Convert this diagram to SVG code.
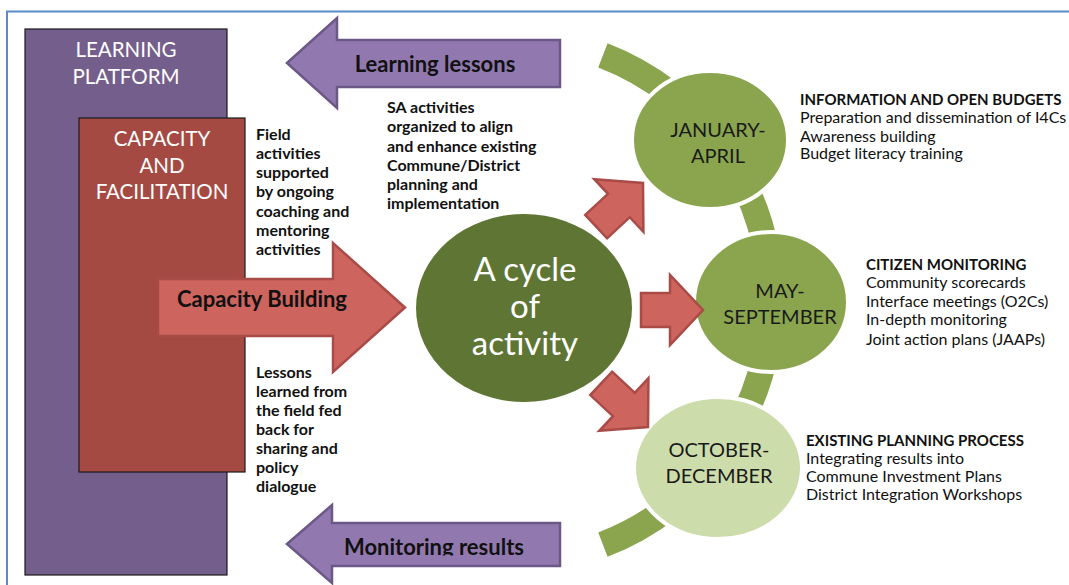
<svg xmlns="http://www.w3.org/2000/svg" width="1069" height="585" viewBox="0 0 1069 585">
  <defs>
    <style>
      .frame { fill: none; stroke: #5B8BCB; stroke-width: 2; }
      .box { stroke: #1a1a1a; stroke-width: 1.2; }
      .purple-arrow { fill: #9179AF; stroke: #6C5887; stroke-width: 2.5; stroke-linejoin: miter; }
      .red-arrow { fill: #CD645E; stroke: #A94B46; stroke-width: 2.5; stroke-linejoin: miter; }
      .ring { fill: none; stroke: #8AA54E; stroke-width: 26; }
      .month { stroke: #ffffff; stroke-width: 4; }
      .title { font-family: Lato, "Liberation Sans", sans-serif; font-size: 20.5px; fill: #ffffff; text-anchor: middle; }
      .cycle-label { font-family: Lato, "Liberation Sans", sans-serif; font-size: 33px; fill: #ffffff; text-anchor: middle; }
      .note { font-family: Lato, "Liberation Sans", sans-serif; font-size: 16px; font-weight: bold; fill: #111111; }
      .arrow-label { font-family: Lato, "Liberation Sans", sans-serif; font-size: 22px; font-weight: bold; fill: #111111; text-anchor: middle; }
      .month-label { font-family: Lato, "Liberation Sans", sans-serif; font-size: 20px; fill: #1a1a1a; text-anchor: middle; }
      .list { font-family: Lato, "Liberation Sans", sans-serif; font-size: 16px; fill: #111111; }
      .list.head { font-size: 15px; font-weight: bold; }
    </style>
    <clipPath id="clip-monitoring">
      <rect x="280" y="500" width="300" height="55.5"/>
    </clipPath>
  </defs>

  <!-- page frame -->
  <path class="frame" d="M 7 585 L 7 11.5 L 1069 11.5"/>

  <!-- nested platforms -->
  <g id="learning-platform">
    <rect class="box" x="25" y="29" width="202" height="546" fill="#745E8C"/>
    <text class="title" x="126" y="57">LEARNING</text>
    <text class="title" x="126" y="84">PLATFORM</text>
  </g>

  <g id="capacity-facilitation">
    <rect class="box" x="79" y="118" width="166" height="354" fill="#A54A43"/>
    <text class="title" x="162" y="146">CAPACITY</text>
    <text class="title" x="162" y="173">AND</text>
    <text class="title" x="162" y="199">FACILITATION</text>
  </g>

  <g id="field-note">
    <text class="note" x="256" y="140">Field</text>
    <text class="note" x="256" y="159">activities</text>
    <text class="note" x="256" y="178">supported</text>
    <text class="note" x="256" y="197">by ongoing</text>
    <text class="note" x="256" y="217">coaching and</text>
    <text class="note" x="256" y="236">mentoring</text>
    <text class="note" x="256" y="255">activities</text>
  </g>

  <g id="lessons-note">
    <text class="note" x="256" y="378">Lessons</text>
    <text class="note" x="256" y="397">learned from</text>
    <text class="note" x="256" y="416">the field fed</text>
    <text class="note" x="256" y="435">back for</text>
    <text class="note" x="256" y="454">sharing and</text>
    <text class="note" x="256" y="473">policy</text>
    <text class="note" x="256" y="492">dialogue</text>
  </g>

  <g id="sa-note">
    <text class="note" x="387" y="113">SA activities</text>
    <text class="note" x="387" y="132">organized to align</text>
    <text class="note" x="387" y="152">and enhance existing</text>
    <text class="note" x="387" y="171">Commune/District</text>
    <text class="note" x="387" y="190">planning and</text>
    <text class="note" x="387" y="209">implementation</text>
  </g>

  <!-- broken ring linking the three periods -->
  <g id="connectors">
    <path class="ring" d="M 602.9 55.4 A 262 262 0 0 1 602.9 544.6"/>
  </g>

  <g id="learning-lessons">
    <polygon class="purple-arrow" points="287,63 337,18 337,40 560,40 560,87 337,87 337,108"/>
    <text class="arrow-label" x="435" y="72">Learning lessons</text>
  </g>

  <g id="monitoring-results">
    <polygon class="purple-arrow" points="287,544 332,505 332,523 560,523 560,566 332,566 332,583"/>
    <text class="arrow-label" x="434" y="555" clip-path="url(#clip-monitoring)">Monitoring results</text>
  </g>

  <g id="capacity-building">
    <polygon class="red-arrow" points="158,279 333,279 333,243 405,307.5 333,372 333,336 158,336"/>
    <text class="arrow-label" x="262" y="307">Capacity Building</text>
  </g>

  <g id="cycle">
    <ellipse cx="524" cy="308" rx="108" ry="94" fill="#5F7533"/>
    <text class="cycle-label" x="525" y="281">A cycle</text>
    <text class="cycle-label" x="525" y="318">of</text>
    <text class="cycle-label" x="525" y="355">activity</text>
  </g>

  <g id="jan-apr">
    <ellipse class="month" cx="710" cy="140" rx="78" ry="69" fill="#8AA54E"/>
    <text class="month-label" x="718" y="137">JANUARY-</text>
    <text class="month-label" x="718" y="163">APRIL</text>
  </g>

  <g id="may-sep">
    <ellipse class="month" cx="771" cy="302" rx="77" ry="70" fill="#8AA54E"/>
    <text class="month-label" x="780" y="298">MAY-</text>
    <text class="month-label" x="780" y="324">SEPTEMBER</text>
  </g>

  <g id="oct-dec">
    <ellipse class="month" cx="718" cy="468" rx="84" ry="71" fill="#CDDCAB"/>
    <text class="month-label" x="719" y="457">OCTOBER-</text>
    <text class="month-label" x="719" y="483">DECEMBER</text>
  </g>

  <!-- small arrows from the cycle to each period -->
  <g id="to-jan">
    <polygon class="red-arrow" transform="translate(643,183) rotate(-43) translate(-64,0)" points="0,-16 31,-16 31,-36 64,0 31,36 31,16 0,16"/>
  </g>
  <g id="to-may">
    <polygon class="red-arrow" transform="translate(703,310) translate(-62,0)" points="0,-17 29,-17 29,-35 62,0 29,35 29,17 0,17"/>
  </g>
  <g id="to-oct">
    <polygon class="red-arrow" transform="translate(648,427) rotate(43) translate(-64,0)" points="0,-16 31,-16 31,-36 64,0 31,36 31,16 0,16"/>
  </g>

  <g id="info-budgets">
    <text class="list head" x="800" y="105">INFORMATION AND OPEN BUDGETS</text>
    <text class="list" x="800" y="123">Preparation and dissemination of I4Cs</text>
    <text class="list" x="800" y="142">Awareness building</text>
    <text class="list" x="800" y="159">Budget literacy training</text>
  </g>

  <g id="citizen-monitoring">
    <text class="list head" x="866" y="270">CITIZEN MONITORING</text>
    <text class="list" x="866" y="288">Community scorecards</text>
    <text class="list" x="866" y="307">Interface meetings (O2Cs)</text>
    <text class="list" x="866" y="325">In-depth monitoring</text>
    <text class="list" x="866" y="345">Joint action plans (JAAPs)</text>
  </g>

  <g id="planning-process">
    <text class="list head" x="806" y="446">EXISTING PLANNING PROCESS</text>
    <text class="list" x="806" y="464">Integrating results into</text>
    <text class="list" x="806" y="482">Commune Investment Plans</text>
    <text class="list" x="806" y="500">District Integration Workshops</text>
  </g>
</svg>
